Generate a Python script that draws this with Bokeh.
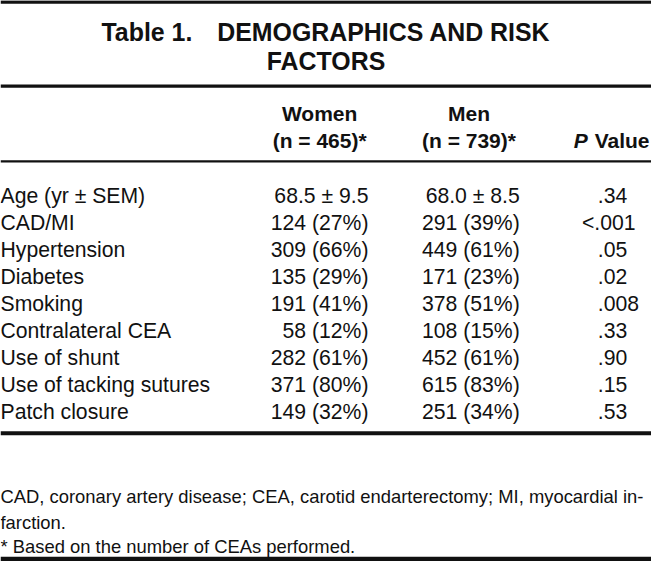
from bokeh.plotting import figure
from bokeh.models import Range1d, Span, ColumnDataSource
from bokeh.core.properties import value
from bokeh.embed import file_html
from bokeh.resources import INLINE

# ---- table content ----
title_lines = ["Table 1.\u2003DEMOGRAPHICS AND RISK", "FACTORS"]
col_headers = ["Women", "Men"]
col_ns = ["(n = 465)*", "(n = 739)*"]
p_header_italic = "P"
p_header_rest = "Value"
factors = ["Age (yr \u00b1 SEM)", "CAD/MI", "Hypertension", "Diabetes", "Smoking",
           "Contralateral CEA", "Use of shunt", "Use of tacking sutures", "Patch closure"]
women = ["68.5 \u00b1 9.5", "124 (27%)", "309 (66%)", "135 (29%)", "191 (41%)",
         "58 (12%)", "282 (61%)", "371 (80%)", "149 (32%)"]
men = ["68.0 \u00b1 8.5", "291 (39%)", "449 (61%)", "171 (23%)", "378 (51%)",
       "108 (15%)", "452 (61%)", "615 (83%)", "251 (34%)"]
pvals = [".34", "<.001", ".05", ".02", ".008", ".33", ".90", ".15", ".53"]
footnotes = ["CAD, coronary artery disease; CEA, carotid endarterectomy; MI, myocardial in-",
             "farction.",
             "* Based on the number of CEAs performed."]

# ---- layout (reference pixel space) ----
W, H = 667, 577
FIG_W, FIG_H = 651, 561
sx = FIG_W / W
FONT = value("Liberation Sans")
DY = -8  # baseline correction

ROW_FONT_REF = 21.7
HDR_FONT_REF = 21.5
TITLE_FONT_REF = 25.5
NOTE_FONT_REF = 18.9

def px(ref):
    return "%.1fpx" % (ref * sx)

p = figure(width=FIG_W, height=FIG_H, x_range=Range1d(0, W), y_range=Range1d(H, 0),
           output_backend="svg", toolbar_location=None,
           x_axis_type=None, y_axis_type=None, min_border=0)
p.grid.visible = False
p.outline_line_color = None
p.background_fill_color = "white"
p.border_fill_color = "white"

# rules
for y, w in [(1.5, 3.5), (88, 3.2), (165.5, 2.2), (445, 4), (574.5, 4.5)]:
    p.add_layout(Span(location=y, dimension="width", line_color="#111111", line_width=w))

# title
title_y = [40 + DY, 70 + DY]
p.text(x=[333.5] * len(title_lines), y=title_y, text=title_lines,
       text_font=FONT, text_font_style="bold", text_font_size=px(TITLE_FONT_REF),
       text_align="center", text_baseline="alphabetic", text_color="#111111")

# column headers
col_centers = [327, 480]
p.text(x=col_centers, y=[124 + DY] * 2, text=col_headers,
       text_font=FONT, text_font_style="bold", text_font_size=px(HDR_FONT_REF),
       text_align="center", text_baseline="alphabetic", text_color="#111111")
p.text(x=col_centers, y=[152 + DY] * 2, text=col_ns,
       text_font=FONT, text_font_style="bold", text_font_size=px(HDR_FONT_REF),
       text_align="center", text_baseline="alphabetic", text_color="#111111")
p_right = 665
value_w = 2.668 * HDR_FONT_REF
space_w = 0.278 * HDR_FONT_REF
p.text(x=[p_right], y=[152 + DY], text=[p_header_rest],
       text_font=FONT, text_font_style="bold", text_font_size=px(HDR_FONT_REF),
       text_align="right", text_baseline="alphabetic", text_color="#111111")
p.text(x=[p_right - value_w - space_w], y=[152 + DY], text=[p_header_italic],
       text_font=FONT, text_font_style="bold italic", text_font_size=px(HDR_FONT_REF),
       text_align="right", text_baseline="alphabetic", text_color="#111111")

# body rows
row0, row_step = 208.5 + DY, 27.8
ys = [row0 + i * row_step for i in range(len(factors))]
dec_x = 612
p_x = [dec_x - 0.75 * ROW_FONT_REF * len(v.split(".")[0]) for v in pvals]
src = ColumnDataSource(dict(y=ys, factor=factors, women=women, men=men, pval=pvals, px=p_x))

common = dict(text_font=FONT, text_font_size=px(ROW_FONT_REF),
              text_baseline="alphabetic", text_color="#111111")
p.text(x=0, y="y", text="factor", source=src, text_align="left", **common)
p.text(x=377, y="y", text="women", source=src, text_align="right", **common)
p.text(x=532, y="y", text="men", source=src, text_align="right", **common)
p.text(x="px", y="y", text="pval", source=src, text_align="left", **common)

# footnotes
note_y = [518 + DY, 545 + DY, 569.5 + DY]
p.text(x=[0] * len(footnotes), y=note_y, text=footnotes,
       text_font=FONT, text_font_size=px(NOTE_FONT_REF),
       text_align="left", text_baseline="alphabetic", text_color="#111111")

open("out.html", "w").write(file_html(p, INLINE))
